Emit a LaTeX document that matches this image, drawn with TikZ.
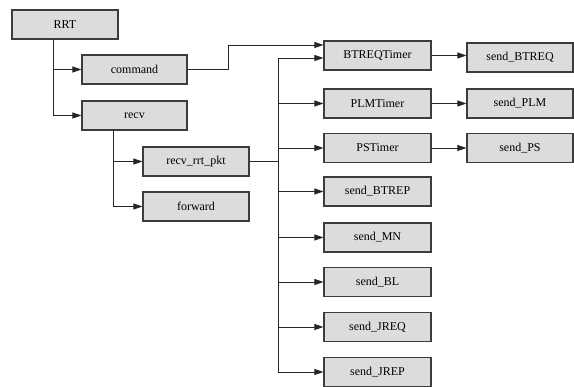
\documentclass[tikz,border=0pt]{standalone}
\usepackage{fontspec}
\setmainfont{Liberation Serif}
\usetikzlibrary{arrows.meta}
\definecolor{boxfill}{RGB}{220,220,220}
\definecolor{boxline}{RGB}{60,60,60}
\tikzset{
  box/.style={draw=boxline, fill=boxfill, line width=1.1pt, minimum height=29pt, inner sep=0pt, font=\fontsize{12}{14}\selectfont},
  bw/.style={minimum width=#1},
  arr/.style={draw=black!85, line width=0.8pt, -{Triangle[length=9pt,width=6pt]}},
  ln/.style={draw=black!85, line width=0.8pt},
}
\begin{document}
\begin{tikzpicture}[x=1pt,y=-1pt]
\useasboundingbox (0,0) rectangle (574,387);
\node[box,bw=106pt] (rrt) at (65,24.5) {RRT};
\node[box,bw=105pt] (command) at (134.5,69.5) {command};
\node[box,bw=105pt] (recv) at (134.5,115.5) {recv};
\node[box,bw=106pt] (pkt) at (196,161.5) {recv\_rrt\_pkt};
\node[box,bw=106pt] (forward) at (196,206.5) {forward};
\node[box,bw=107pt] (btreqt) at (377.5,55.5) {BTREQTimer};
\node[box,bw=107pt] (plmt) at (377.5,103.5) {PLMTimer};
\node[box,bw=107pt] (pst) at (377.5,148) {PSTimer};
\node[box,bw=107pt] (btrep) at (377.5,191.5) {send\_BTREP};
\node[box,bw=107pt] (mn) at (377.5,237.5) {send\_MN};
\node[box,bw=107pt] (bl) at (377.5,282) {send\_BL};
\node[box,bw=107pt] (jreq) at (377.5,327) {send\_JREQ};
\node[box,bw=107pt] (jrep) at (377.5,372) {send\_JREP};
\node[box,bw=106pt] (sbtreq) at (520,57.5) {send\_BTREQ};
\node[box,bw=106pt] (splm) at (520,103.5) {send\_PLM};
\node[box,bw=106pt] (sps) at (520,148) {send\_PS};
% RRT children
\coordinate (b1) at (53,39);
\draw[arr] (b1) |- (recv.west);
\draw[arr] (b1 |- command.west) -- (command.west);
% recv children
\coordinate (b2) at (113,130);
\draw[arr] (b2) |- (forward.west);
\draw[arr] (b2 |- pkt.west) -- (pkt.west);
% command to BTREQTimer
\coordinate (c1) at (228,45);
\draw[arr] (command.east) -- (c1 |- command.east) -- (c1) -- (c1 -| btreqt.west);
% bus from recv_rrt_pkt
\coordinate (bus) at (278,58);
\draw[ln] (pkt.east) -- (bus |- pkt.east);
\draw[arr] (bus) -- (bus -| btreqt.west);
\draw[arr] (bus) |- (jrep.west);
\foreach \n in {plmt,pst,btrep,mn,bl,jreq}{
  \draw[arr] (bus |- \n.west) -- (\n.west);
}
% timers to senders
\draw[arr] (btreqt.east) -- (btreqt.east -| sbtreq.west);
\draw[arr] (plmt.east) -- (splm.west);
\draw[arr] (pst.east) -- (sps.west);
\end{tikzpicture}
\end{document}
